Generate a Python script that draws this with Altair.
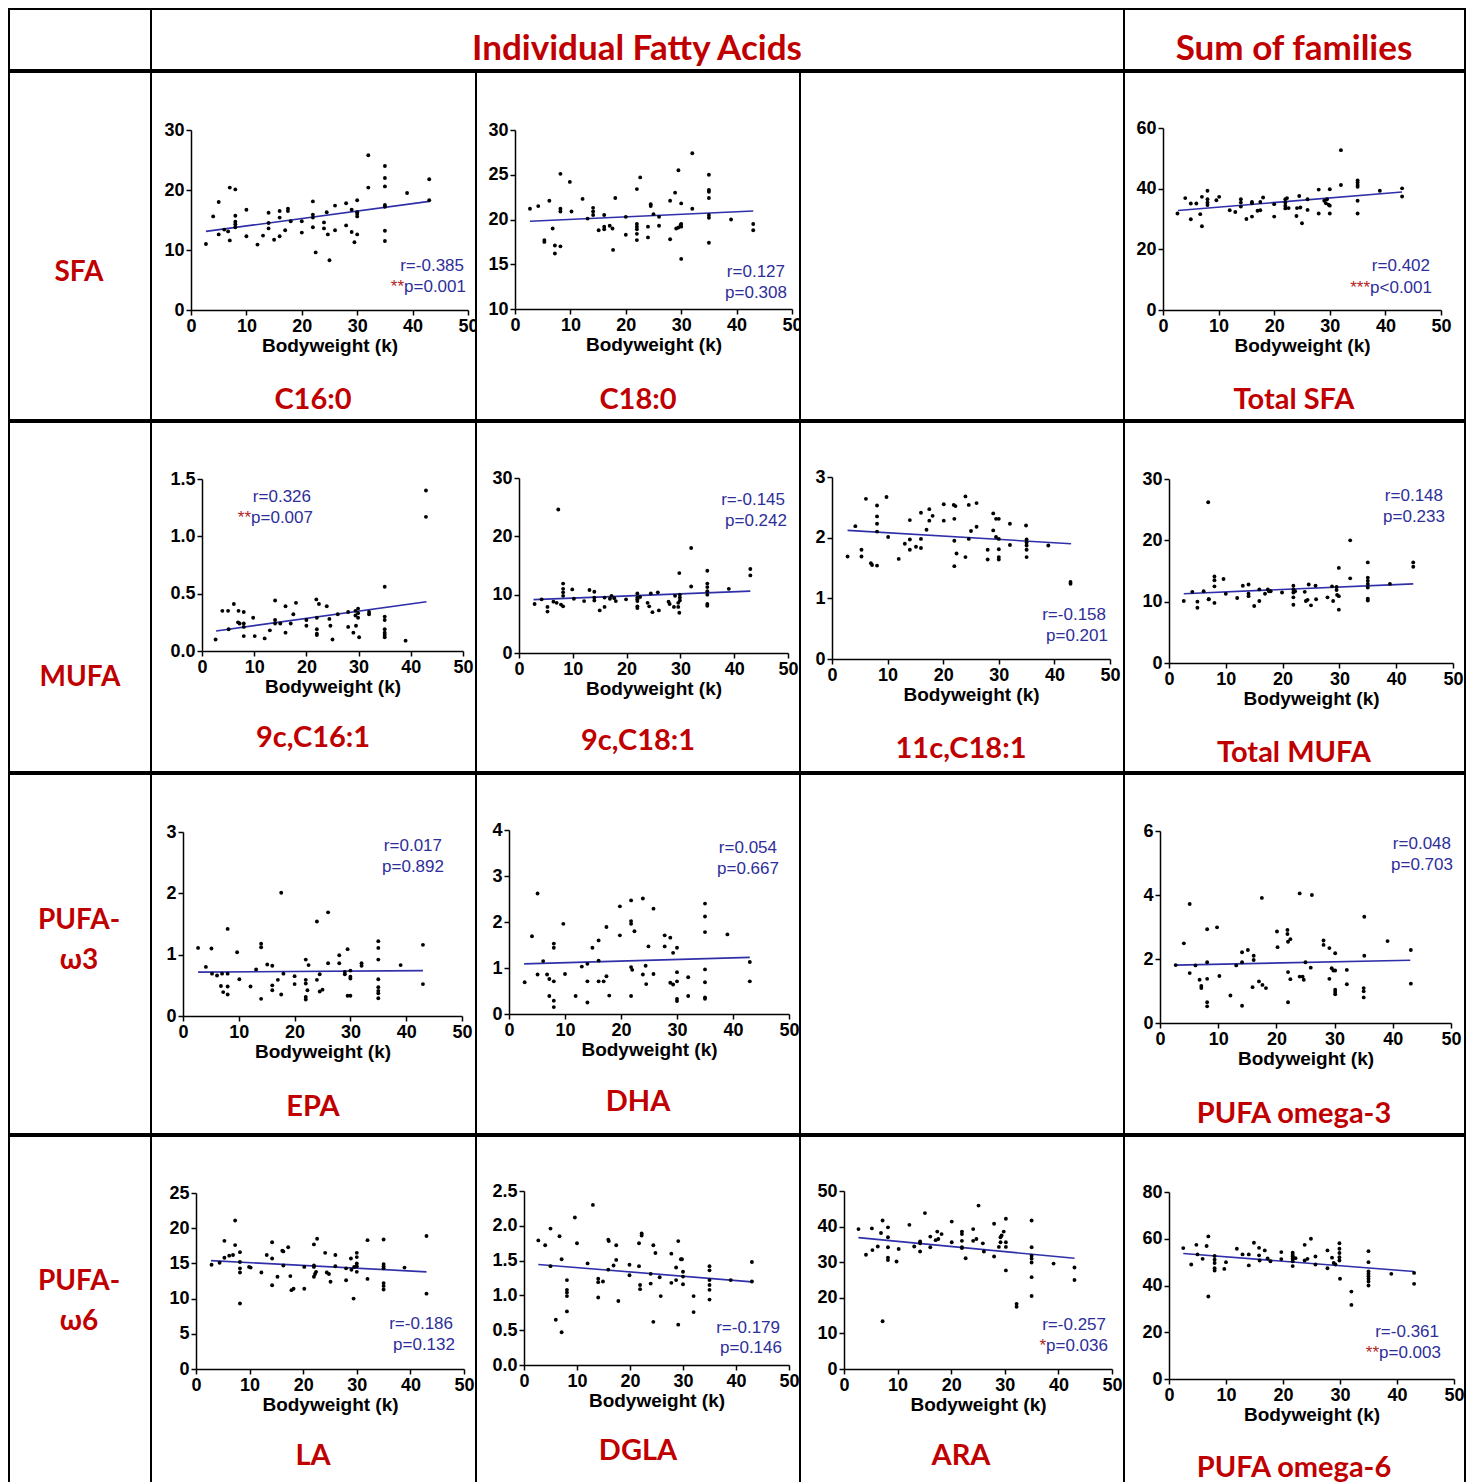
import altair as alt
import pandas as pd

# ---------------- data ----------------
c160_x = [2.7,4,5,5,6,6.7,7,7,8,8,8,8,8,10,10,12,13,14,14,14,15,16,16,16,17,17.5,17.5,18,20,20,22,22,22,22,22.5,24,24,24.5,24.7,25,26,26,28,28,29,29,29.5,30,30,30,30,30,32,32,35,35,35,35,35,35,35,39,43,43]
c160_y = [11.0,15.6,18.0,12.6,13.4,13.1,20.4,11.6,20.1,15.7,14.7,14.3,13.8,12.3,16.7,10.9,12.4,16.2,14.5,13.6,11.7,16.5,15.4,12.3,13.3,16.9,16.5,14.8,14.8,12.9,18.1,15.9,15.4,13.8,9.6,14.6,13.6,16.3,12.6,8.3,17.4,13.3,17.8,14.1,16.7,13.0,11.3,18.3,16.3,16.0,15.6,12.6,25.8,20.4,24.0,22.0,20.6,17.5,17.2,13.2,11.5,19.5,21.8,18.3]
c160_fit_x = [2.7, 43]
c160_fit_y = [13.1, 18.1]

c180_x = [2.7,4.2,5.3,5.3,6.2,6.8,7.2,7.2,8.2,8.2,8.2,8.2,9.9,10.2,12.2,13.1,14.1,14.1,14.1,15.1,16.1,16.1,16.1,17.1,17.7,17.6,18.1,20,20,22,22,22,22,22,22,22.6,24,24,24.5,24.5,25,26,26,28,28,28.9,29.1,29.5,29.5,29.9,30,30,30,30,32,32,35,35,35,35,35,35,35,39,43,43]
c180_y = [21.2,21.5,17.7,17.5,22.1,19.0,17.1,16.2,25.1,21.2,20.9,17.0,24.2,20.9,22.3,20.1,21.3,20.9,20.5,18.8,20.5,19.2,18.9,19.3,16.6,19.0,22.4,20.3,18.3,23.4,19.5,19.2,18.9,18.4,17.7,24.7,19.2,18.0,21.7,21.5,20.6,20.3,19.3,22.1,17.8,23.0,19.0,25.5,19.1,19.4,19.5,19.2,21.8,15.6,27.4,21.2,25.0,23.3,23.1,22.4,20.5,20.2,17.4,20.0,19.5,18.8]
c180_fit_x = [2.7, 43]
c180_fit_y = [19.8, 20.95]

tsfa_x = [2.6,4,5,5,6,6.7,7,7,8,8,8,8,9.6,10.1,12,13,14,14,14,15,16,16,16,17,17.5,17.5,18,20,20,22,22,22,22,22.3,22.6,24,24.1,24.5,24.7,25,26,26,28,28,29,29.3,29.5,29.8,30,30,30,32,32,35,35,35,35,35,35,39,43,43]
tsfa_y = [31.8,36.9,35.1,29.9,35.1,31.6,37.3,27.6,39.3,36.5,35.4,34.6,36.2,37.3,32.9,32.3,36.5,35.4,34.1,30.0,35.6,35.2,30.8,32.7,32.9,35.6,37.1,34.9,30.8,36.5,35.4,34.4,33.5,36.9,33.6,31.0,33.6,37.6,33.8,28.6,36.5,33.0,39.7,31.8,36.0,35.2,36.5,34.7,39.8,34.4,31.8,52.7,41.2,42.7,42.0,41.2,40.6,36.0,31.8,39.3,40.1,37.4]
tsfa_fit_x = [2.7, 43]
tsfa_fit_y = [32.8, 38.9]

c161_x = [2.6,3.9,5,5.1,6.1,7,6.9,7.2,8,8,8,8,9.8,10.1,12,13,14,14,14,15,16,16,17,17.5,18,20,20,21.9,22,22,22,22,22.4,23.9,24.4,24.6,25,26,28,28,29,29.4,29.4,29.5,29.9,29.9,29.9,30.1,32,32,35,35,35,35,35,35,35,39,42.9,42.9]
c161_y = [0.10,0.35,0.35,0.19,0.41,0.35,0.25,0.24,0.34,0.24,0.21,0.13,0.29,0.13,0.11,0.18,0.44,0.27,0.24,0.24,0.39,0.16,0.24,0.32,0.42,0.27,0.22,0.45,0.29,0.19,0.15,0.14,0.41,0.39,0.28,0.22,0.10,0.32,0.34,0.21,0.16,0.35,0.31,0.22,0.37,0.33,0.29,0.12,0.34,0.32,0.56,0.30,0.27,0.19,0.16,0.14,0.12,0.09,1.40,1.17]
c161_fit_x = [2.7, 43]
c161_fit_y = [0.175, 0.43]

c181_x = [2.9,4.2,5.3,5.3,6.4,7,7.3,7.8,8.2,8.2,8.2,8.2,8.2,9.9,10.2,12.1,13.1,14,14,14,15,15.9,15.9,16.9,17.2,17.7,18,19.9,22,22,22,22,22,22,22.5,23.9,24.2,24.5,24.8,25.8,26,27.8,28,28.8,29,29.6,29.6,29.8,29.8,29.9,29.9,29.9,32,32,35,35,35,35,35,35,35,39,43,43]
c181_y = [8.4,9.2,7.9,7.1,8.8,8.6,24.6,8.3,11.9,11.0,10.4,9.8,8.0,10.9,9.3,8.9,10.8,10.5,9.5,9.0,7.3,9.5,7.9,9.3,9.8,9.4,8.9,9.2,10.2,9.5,9.2,8.9,8.0,7.7,9.6,8.6,8.0,10.2,7.0,10.4,7.3,8.8,8.4,7.9,9.8,8.6,7.9,13.7,6.9,9.0,9.5,10.0,18.0,11.4,14.1,11.9,11.3,10.6,10.0,8.4,8.1,11.0,14.4,13.3]
c181_fit_x = [2.7, 43]
c181_fit_y = [9.15, 10.6]

c181b_x = [2.8,4.2,5.3,5.3,6.1,7,7.2,8.1,8.1,8.1,8.1,8.1,9.8,10.1,12,13.1,14,14,14,15.1,16,16,16,17,17.5,17.5,18.1,20.1,20.1,21.9,22.2,22,22,22.4,22,24,24,24.6,24.6,25,26,26,28,28,29,29,29.5,30,29.5,30,30,30,30,32,32,34.9,35,35,35,35,35,38.9,42.9,42.9]
c181b_y = [1.69,2.19,1.80,1.69,2.64,1.58,1.55,2.53,2.35,2.23,2.10,1.54,2.67,2.01,1.65,1.90,2.29,1.97,1.80,1.85,2.41,1.98,1.83,2.13,2.47,2.28,2.36,2.55,2.28,2.54,2.52,2.31,1.95,1.74,1.53,2.68,1.68,2.54,1.98,2.11,2.57,2.18,1.80,1.64,2.40,2.12,2.31,2.31,2.01,1.98,1.81,1.68,1.64,2.23,1.88,2.20,1.97,1.92,1.87,1.80,1.68,1.87,1.27,1.24]
c181b_fit_x = [2.8, 43]
c181b_fit_y = [2.12, 1.9]

tmufa_x = [2.6,4.1,5,5,6.1,6.9,7,7,8,8,8,8,9.6,10,12,13,14,14,14,15,15.9,15.9,16.9,17.4,17.6,17.9,19.9,21.9,21.9,21.9,21.9,21.9,22.2,23.9,24.1,24.4,24.6,25,25.8,25.9,27.9,28.7,28.9,29.5,29.5,29.6,29.9,29.9,29.9,31.9,31.9,35,35,35,35,35,35,35,38.9,43,43]
tmufa_y = [10.1,11.6,10.0,9.0,11.7,26.2,10.4,10.4,14.1,13.5,12.5,9.8,13.7,11.3,10.6,12.6,12.8,11.3,10.9,9.3,12.0,10.1,11.3,12.0,11.7,11.7,11.5,12.6,12.0,11.5,10.7,9.5,11.7,11.6,10.1,10.3,12.8,9.4,12.6,10.4,10.7,12.5,10.1,12.4,11.9,11.1,10.9,15.5,8.7,20.0,13.8,16.4,13.9,13.4,12.9,12.3,10.5,10.2,12.9,16.4,15.7]
tmufa_fit_x = [2.6, 43]
tmufa_fit_y = [11.3, 12.9]

epa_x = [2.7,4.1,5.1,5.2,6.1,7,6.8,7.2,8,8,8,8,9.7,10.1,12.1,13.1,14,14,14,15.1,16,16,16,17,17.6,17.6,18,20,20,22,22,22,22,22,22.5,22.3,24,24,24.5,24.5,25,26,26,28,28,29,29,29.5,29.5,30,30,30,30,32,32,35,35,35,35,35,35,35,35,39,43,43]
epa_y = [1.11,0.80,1.10,0.69,0.66,0.69,0.49,0.39,1.42,0.69,0.48,0.35,1.04,0.60,0.48,0.76,1.18,1.12,0.28,0.84,0.82,0.50,0.42,0.59,2.01,0.35,0.69,0.65,0.52,0.92,0.59,0.53,0.31,0.27,0.83,0.42,1.54,0.59,0.68,0.40,0.43,1.69,0.86,0.99,0.86,0.68,0.72,1.09,0.33,0.33,0.74,0.64,0.61,0.86,0.82,1.22,1.11,0.92,0.60,0.47,0.41,0.37,0.29,0.83,1.16,0.52]
epa_fit_x = [2.7, 43]
epa_fit_y = [0.715, 0.74]

dha_x = [2.8,4.1,5.1,5.1,6.1,6.8,7.2,7.2,8,8,8,8,8,9.7,10,11.9,13,14,14,14,14.9,16,16,16,16.9,17.4,17.4,17.9,19.8,19.8,21.8,21.8,21.8,21.8,22,21.8,22.4,23.9,23.9,24.4,24.5,24.9,25.8,25.8,27.8,27.8,28.8,28.8,29.3,29.3,30,30,30,30,30,32,32,35,35,35,35,35,35,35,39,43,43]
dha_y = [0.69,1.69,2.62,0.86,1.15,0.86,0.76,0.39,1.53,1.44,0.71,0.29,0.15,1.96,0.87,0.39,1.03,1.09,0.71,0.25,1.44,1.60,1.16,0.71,0.71,1.89,0.82,0.40,1.71,2.34,2.47,2.02,1.96,1.02,0.96,0.39,1.80,2.51,0.86,1.05,0.65,1.47,2.29,0.87,1.71,1.47,1.66,0.68,0.64,1.33,1.44,0.91,0.71,0.33,0.28,0.80,0.39,2.40,2.12,1.78,0.97,0.69,0.36,0.33,1.73,1.13,0.71]
dha_fit_x = [2.7, 43]
dha_fit_y = [1.09, 1.23]

w3_x = [2.7,4.1,5.1,5.1,6.1,6.8,7.1,7.1,8.1,8.1,8.1,8.1,8.1,9.8,10.2,12.1,13.1,14.1,14.1,14.1,15.1,16.1,16.1,15.9,17,17.5,17.6,18.2,20.1,20.2,21.9,21.9,22,22,22,22.4,22.4,24,24,24.5,24.7,25,25.9,26.1,28.1,28.1,29.1,29.1,29.5,29.8,30.1,30.1,30.1,30.1,30.1,32.1,32.1,35.1,35.1,35,35,35,39.1,43.1,43.1]
w3_y = [1.81,2.49,3.72,1.56,1.80,1.35,1.16,1.09,2.93,1.90,1.38,0.65,0.52,2.99,1.47,0.86,1.80,2.21,1.90,0.54,2.28,2.10,1.97,1.12,1.30,3.91,1.19,1.09,2.86,2.37,2.91,2.78,2.54,1.59,0.65,2.62,1.37,4.05,1.45,1.45,1.35,1.90,1.73,4.0,2.58,2.44,2.34,1.38,1.71,1.64,2.18,1.64,1.04,0.97,0.90,1.66,1.21,3.32,2.10,1.09,0.99,0.80,2.56,2.28,1.23]
w3_fit_x = [2.7, 43]
w3_fit_y = [1.81, 1.96]

la_x = [2.9,4.4,5.3,5.3,6.2,6.9,7.3,7.3,8.2,8.2,8.2,8.2,8.2,9.9,10.2,12.2,13.2,14.2,14.2,14.2,15.2,16.1,16.3,16.3,17.2,17.6,17.8,18.2,20.2,20.2,22,22,22,22,22.2,22.4,22.6,24.1,24.4,24.8,25.1,26,26,28,28,28.9,29,29.4,29.5,30,30,30,30,30,32,32,35,35,35,35,35,35,35,38.9,43,43]
la_y = [14.8,15.1,18.2,15.8,16.1,16.2,21.1,17.6,16.6,15.2,14.3,13.7,9.3,14.5,14.4,13.7,16.2,18.0,15.7,11.9,13.1,16.8,16.7,14.7,17.3,13.2,11.2,11.4,14.5,11.4,17.7,14.7,14.5,13.1,13.5,13.8,18.5,16.5,13.7,13.5,12.4,16.2,14.6,14.3,12.6,15.7,14.1,10.0,14.5,16.5,15.9,15.0,14.6,13.8,18.3,12.8,18.4,14.9,14.6,14.3,12.2,11.8,11.3,14.4,18.9,10.7]
la_fit_x = [2.8, 43]
la_fit_y = [15.4, 13.8]

dgla_x = [2.7,4,5,5,6,6.7,7.1,7.1,8.1,8.1,8.1,8.1,8.1,9.6,10,12,13,14,14,14,14.9,15.9,16,15.9,16.9,17.4,17.4,17.8,19.9,19.9,21.7,21.7,21.9,21.9,22.2,22.2,23.9,23.9,24.4,24.4,24.8,25.6,25.8,27.8,27.8,28.7,28.7,29.1,29.1,29.6,29.8,30,30,30,32,32,35,35,35,35,35,35,39,43,43]
dgla_y = [1.79,1.72,1.96,1.42,0.65,1.85,1.52,0.47,1.22,1.08,1.04,0.99,0.77,2.12,1.75,1.46,2.30,1.24,1.19,0.97,1.20,1.80,1.78,1.37,1.43,1.72,1.51,0.92,1.44,1.29,1.75,1.42,1.15,1.09,1.89,1.86,1.17,1.31,1.72,0.62,1.61,1.26,0.99,1.60,1.18,1.40,1.22,1.78,0.58,1.52,1.52,1.34,1.27,1.16,0.99,0.76,1.42,1.36,1.22,1.15,1.08,0.94,1.22,1.48,1.20]
dgla_fit_x = [2.7, 43]
dgla_fit_y = [1.445, 1.195]

ara_x = [2.7,4.1,5.2,5.3,6.3,6.9,7.2,7.2,8.2,8.2,8.2,8.2,8.2,9.8,10.2,12.2,13.1,14.2,14.2,14.2,15.1,16.1,16.1,17.1,17.4,17.6,18.2,20.1,20.1,22,22,22,22,22,22.7,24.1,24.1,24.7,25.1,25.9,26.1,28,28,28.9,29.2,29.2,29.4,29.8,30.2,30.2,30.2,30.2,32.2,32.2,35,35,35,35,35,35,35,39.1,43,43]
ara_y = [39.3,32.1,39.5,33.4,34.4,38.2,41.7,13.4,39.8,37.0,34.2,31.3,30.6,30.2,33.7,40.5,34.4,35.8,35.3,33.0,43.8,37.2,34.2,36.2,38.6,36.5,37.9,41.4,35.6,38.6,37.9,36.0,34.2,34.0,31.1,39.3,36.0,36.5,45.9,35.3,33.0,40.8,31.6,34.3,37.0,35.6,37.5,38.6,42.2,35.6,34.3,27.7,18.3,17.5,41.7,34.2,31.8,31.0,29.9,25.8,20.5,29.6,28.5,25.0]
ara_fit_x = [2.7, 43]
ara_fit_y = [36.9, 31.1]

w6_x = [2.5,3.9,4.8,5,5.9,6.6,6.9,6.9,8,8,8,8,8,9.7,10,11.9,12.9,14,14,14.9,15.8,15.8,15.9,16.8,17.3,17.8,19.7,19.7,21.7,21.7,21.7,21.7,21.7,21.7,22.2,23.8,23.8,24.3,24.9,25.7,25.7,27.8,27.8,28.6,28.9,29.2,29.9,29.9,29.9,29.9,29.9,30,32,32,35,35,35,35,35,35,35,35,39,43,43]
w6_y = [56.0,49.0,57.4,53.3,51.4,56.9,61.0,35.3,52.6,51.0,49.6,47.4,46.4,47.1,50.0,55.7,53.3,53.3,48.6,58.3,56.1,52.9,50.7,55.0,51.6,50.4,54.3,51.3,54.0,53.1,52.4,51.4,50.4,48.3,51.7,57.4,50.7,51.4,60.0,52.4,49.0,55.0,47.4,51.9,49.6,49.0,58.1,55.7,53.9,52.1,50.7,42.9,37.4,31.7,54.7,50.0,46.0,45.0,44.0,42.9,41.7,40.0,45.0,45.4,40.7]
w6_fit_x = [2.5, 43]
w6_fit_y = [53.7, 46.0]

panel_names = ["C16:0", "C18:0", "Total SFA", "9c,C16:1", "9c,C18:1", "11c,C18:1",
               "Total MUFA", "EPA", "DHA", "PUFA omega-3", "LA", "DGLA", "ARA", "PUFA omega-6"]
r_texts = ["r=-0.385", "r=0.127", "r=0.402", "r=0.326", "r=-0.145", "r=-0.158", "r=0.148",
           "r=0.017", "r=0.054", "r=0.048", "r=-0.186", "r=-0.179", "r=-0.257", "r=-0.361"]
p_texts = ["p=0.001", "p=0.308", "p<0.001", "p=0.007", "p=0.242", "p=0.201", "p=0.233",
           "p=0.892", "p=0.667", "p=0.703", "p=0.132", "p=0.146", "p=0.036", "p=0.003"]
stars = ["**", "", "***", "**", "", "", "", "", "", "", "", "", "*", "**"]
y_ticks = [[0, 10, 20, 30], [10, 15, 20, 25, 30], [0, 20, 40, 60], [0, 0.5, 1.0, 1.5],
           [0, 10, 20, 30], [0, 1, 2, 3], [0, 10, 20, 30], [0, 1, 2, 3], [0, 1, 2, 3, 4],
           [0, 2, 4, 6], [0, 5, 10, 15, 20, 25], [0, 0.5, 1.0, 1.5, 2.0, 2.5],
           [0, 10, 20, 30, 40, 50], [0, 20, 40, 60, 80]]
x_ticks = [0, 10, 20, 30, 40, 50]
row_labels = [["SFA"], ["MUFA"], ["PUFA-", "ω3"], ["PUFA-", "ω6"]]
header_texts = ["Individual Fatty Acids", "Sum of families"]
x_title = "Bodyweight (k)"

series = [(c160_x, c160_y, c160_fit_x, c160_fit_y), (c180_x, c180_y, c180_fit_x, c180_fit_y),
          (tsfa_x, tsfa_y, tsfa_fit_x, tsfa_fit_y), (c161_x, c161_y, c161_fit_x, c161_fit_y),
          (c181_x, c181_y, c181_fit_x, c181_fit_y), (c181b_x, c181b_y, c181b_fit_x, c181b_fit_y),
          (tmufa_x, tmufa_y, tmufa_fit_x, tmufa_fit_y), (epa_x, epa_y, epa_fit_x, epa_fit_y),
          (dha_x, dha_y, dha_fit_x, dha_fit_y), (w3_x, w3_y, w3_fit_x, w3_fit_y),
          (la_x, la_y, la_fit_x, la_fit_y), (dgla_x, dgla_y, dgla_fit_x, dgla_fit_y),
          (ara_x, ara_y, ara_fit_x, ara_fit_y), (w6_x, w6_y, w6_fit_x, w6_fit_y)]

# ---------------- layout (page pixels) ----------------
COL_X = [8, 150, 475, 799, 1123, 1464]
ROW_Y = [8, 70, 419, 770, 1131, 1492]
BORDER = 2
# each stacked row adds 1px (border half-width); cells are 1px shorter and start 1px lower
ROW_SHIFT = 1
grid_pos = [(1, 1), (1, 2), (1, 4), (2, 1), (2, 2), (2, 3), (2, 4), (3, 1), (3, 2), (3, 4),
            (4, 1), (4, 2), (4, 3), (4, 4)]
axes_px = [(190, 467, 309, 129), (514, 791, 308, 129), (1162, 1440, 309, 127),
           (201, 462, 649, 477), (518, 787, 651, 476), (831, 1109, 657, 475),
           (1168, 1452, 661, 477), (182, 461, 1013, 829), (508, 788, 1011, 827),
           (1159, 1450, 1020, 828), (195, 463, 1365, 1189), (523, 788, 1361, 1187),
           (843, 1111, 1365, 1187), (1168, 1453, 1375, 1188)]
stat_px = [(463, 265, 286), (784, 271, 292), (1429, 265, 287), (310, 495, 516),
           (784, 498, 519), (1105, 613, 634), (1442, 494, 515), (441, 843, 864),
           (776, 845, 866), (1450, 841, 862), (452, 1320, 1341), (779, 1324, 1344),
           (1105, 1321, 1342), (1438, 1328, 1349)]
title_px = [(312, 399), (637, 399), (1293, 399), (312, 736), (637, 739), (960, 747),
            (1293, 751), (312, 1104), (637, 1099), (1293, 1111), (312, 1452), (637, 1447),
            (960, 1452), (1293, 1464)]
rowlabel_px = [(78, [272]), (79, [676]), (78, [918, 958]), (78, [1278, 1318])]
header_px = [(636, 49), (1293, 49)]

RED = "#C00000"
STAR_RED = "#B22222"
BLUE = "#2E2E9A"
LINE_BLUE = "#2F2FAA"
AX_FONT = "Liberation Sans"
T_FONT = "Lato, Open Sans, DejaVu Sans"
STAT_SIZE = 17
TITLE_SIZE = 29
HEADER_SIZE = 35

ARIAL_W = {"p": 0.556, "=": 0.584, "<": 0.584, ".": 0.278, "r": 0.333, "-": 0.333}


def text_w(s, size):
    return sum(ARIAL_W.get(c, 0.556) for c in s) * size


def txt(s, x, y, color, size, font, weight="normal", align="center"):
    return alt.Chart(pd.DataFrame({"t": [s]})).mark_text(
        align=align, baseline="middle", font=font, fontSize=size,
        fontWeight=weight, color=color
    ).encode(text="t:N", x=alt.value(x), y=alt.value(y))


def cell_box(r, c, span=1):
    top = ROW_Y[r] + ROW_SHIFT
    return (COL_X[c], top, COL_X[c + span] - COL_X[c],
            ROW_Y[r + 1] - ROW_Y[r] - ROW_SHIFT)


def blank(w, h):
    # empty cell: an empty text placed in the middle keeps the bounds inside the cell
    return txt("", w / 2, h / 2, "black", 10, AX_FONT).properties(width=w, height=h)


def make_panel(i):
    r, c = grid_pos[i]
    cx, cy, cw, ch = cell_box(r, c)
    xs_, ys_, fx, fy = series[i]
    x0, x50, yb, yt = axes_px[i]
    ticks = y_ticks[i]
    dec = any(isinstance(t, float) for t in ticks)
    xrange_ = [x0 - cx, x50 - cx]
    yrange_ = [yb - cy, yt - cy]
    xs = alt.Scale(domain=[0, 50], range=xrange_, nice=False, zero=False)
    ys = alt.Scale(domain=[ticks[0], ticks[-1]], range=yrange_, nice=False, zero=False)
    xax = alt.Axis(values=x_ticks, title=x_title, offset=-(ch - yrange_[0]), grid=False,
                   labelFlush=False, labelOverlap=False, format="d")
    yax = alt.Axis(values=ticks, title=None, offset=-xrange_[0], grid=False,
                   labelOverlap=False, format=".1f" if dec else "d")
    assert len(xs_) == len(ys_), panel_names[i]
    df = pd.DataFrame({"bw": list(xs_), "v": list(ys_)})
    pts = alt.Chart(df).mark_circle(size=15, color="black", opacity=1).encode(
        x=alt.X("bw:Q", scale=xs, axis=xax), y=alt.Y("v:Q", scale=ys, axis=yax))
    ln = alt.Chart(pd.DataFrame({"bw": fx, "v": fy})).mark_line(
        color=LINE_BLUE, strokeWidth=1.6).encode(
        x=alt.X("bw:Q", scale=xs, axis=xax), y=alt.Y("v:Q", scale=ys, axis=yax))
    layers = [ln, pts]
    sx, ry, py = stat_px[i]
    sx -= cx
    layers.append(txt(r_texts[i], sx, ry - cy, BLUE, STAT_SIZE, AX_FONT, align="right"))
    layers.append(txt(p_texts[i], sx + 2, py - cy, BLUE, STAT_SIZE, AX_FONT, align="right"))
    if stars[i]:
        layers.append(txt(stars[i], sx + 2 - text_w(p_texts[i], STAT_SIZE), py - cy,
                          STAR_RED, STAT_SIZE, AX_FONT, align="right"))
    tx, ty = title_px[i]
    layers.append(txt(panel_names[i], tx - cx, ty - cy, RED, TITLE_SIZE, T_FONT, weight="bold"))
    return alt.layer(*layers).properties(width=cw, height=ch)


rows = []
hx0, hy0, hw0, hh0 = cell_box(0, 0)
h1 = cell_box(0, 1, 3)
h2 = cell_box(0, 4)
rows.append(alt.hconcat(
    blank(hw0, hh0),
    txt(header_texts[0], header_px[0][0] - h1[0], header_px[0][1] - h1[1], RED, HEADER_SIZE,
        T_FONT, weight="bold").properties(width=h1[2], height=h1[3]),
    txt(header_texts[1], header_px[1][0] - h2[0], header_px[1][1] - h2[1], RED, HEADER_SIZE,
        T_FONT, weight="bold").properties(width=h2[2], height=h2[3]),
    spacing=0, bounds="flush"))

for r in range(1, 5):
    lx, ly, lw, lh = cell_box(r, 0)
    px, pys = rowlabel_px[r - 1]
    lab_layers = [txt(s, px - lx, yy - ly, RED, 28, T_FONT, weight="bold")
                  for s, yy in zip(row_labels[r - 1], pys)]
    cells = [alt.layer(*lab_layers).properties(width=lw, height=lh)]
    for c in range(1, 5):
        idx = [k for k, g in enumerate(grid_pos) if g == (r, c)]
        if idx:
            cells.append(make_panel(idx[0]))
        else:
            bx, by, bw, bh = cell_box(r, c)
            cells.append(blank(bw, bh))
    rows.append(alt.hconcat(*cells, spacing=0, bounds="flush"))

chart = alt.vconcat(*rows, spacing=0).properties(
    padding=0
).configure_view(
    stroke="black", strokeWidth=BORDER, fill="white"
).configure_axis(
    domainColor="black", domainWidth=1.5, tickColor="black", tickWidth=1.5, tickSize=5,
    labelColor="black", labelFont=AX_FONT, labelFontSize=18, labelFontWeight="bold",
    labelPadding=2, titleColor="black", titleFont=AX_FONT, titleFontSize=19,
    titleFontWeight="bold", titlePadding=1
)

chart.save("out.html", embed_options={"renderer": "svg", "actions": False})
